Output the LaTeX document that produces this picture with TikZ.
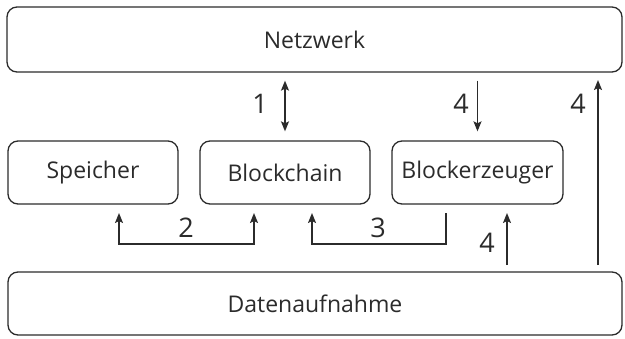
\documentclass[tikz,border=0pt]{standalone}
\usepackage{fontspec}
\setmainfont{Open Sans}
\usetikzlibrary{arrows.meta,calc}
\definecolor{ink}{HTML}{2B2B2B}
\tikzset{
  box/.style={draw=ink, line width=1.3pt, rounded corners=10pt, inner sep=0pt,
    font=\fontsize{23}{27}\selectfont, text=ink},
  flow/.style={draw=ink, line width=1.5pt, -{Stealth[length=10pt,width=8pt,inset=2pt]}},
  lbl/.style={font=\fontsize{27}{31}\selectfont, text=ink, inner sep=0pt}
}
\begin{document}
\begin{tikzpicture}[x=1pt,y=-1pt]
  \useasboundingbox (0,0) rectangle (625,338);

  % boxes
  \node[box, minimum width=615pt, minimum height=65pt] (net) at (314.5,39.5) {Netzwerk};
  \node[box, minimum width=170pt, minimum height=63pt] (mem) at (93,172.5) {Speicher};
  \node[box, minimum width=170pt, minimum height=63pt] (bc) at (285,172.5) {Blockchain};
  \node[box, minimum width=171pt, minimum height=63pt] (gen) at (477.5,172.5) {Blockerzeuger};
  \node[box, minimum width=614pt, minimum height=63pt] (data) at (315,303.5) {Datenaufnahme};

  % free ends of the connectors
  \coordinate (m1) at (119,213);
  \coordinate (b1) at (254,213);
  \coordinate (b2) at (312,213);
  \coordinate (g1) at (446,213);
  \coordinate (g2) at (507,213);
  \coordinate (d1) at (507,265);
  \coordinate (d2) at (598,265);
  \coordinate (n1) at (598,80);

  % 1: network <-> blockchain
  \draw[flow, {Stealth[length=10pt,width=8pt,inset=2pt]}-{Stealth[length=10pt,width=8pt,inset=2pt]}]
    ([yshift=-8pt]net.south -| bc.north) -- ([yshift=9pt]bc.north);
  \node[lbl] at (260,104) {1};

  % 4: network -> block generator
  \draw[flow] ([yshift=-8pt]net.south -| gen.north) -- ([yshift=9pt]gen.north);
  \node[lbl] at (461,104) {4};

  % 4: data intake -> network
  \draw[flow] (d2) -- (n1);
  \node[lbl] at (578,104) {4};

  % 4: data intake -> block generator
  \draw[flow] (d1) -- (g2);
  \node[lbl] at (487,243) {4};

  % 2: storage <-> blockchain
  \draw[flow, {Stealth[length=10pt,width=8pt,inset=2pt]}-{Stealth[length=10pt,width=8pt,inset=2pt]}]
    (m1) -- (m1 |- 0,244) -- (b1 |- 0,244) -- (b1);
  \node[lbl] at (186,228) {2};

  % 3: block generator -> blockchain
  \draw[flow] (g1) -- (g1 |- 0,244) -- (b2 |- 0,244) -- (b2);
  \node[lbl] at (378,228) {3};
\end{tikzpicture}
\end{document}
